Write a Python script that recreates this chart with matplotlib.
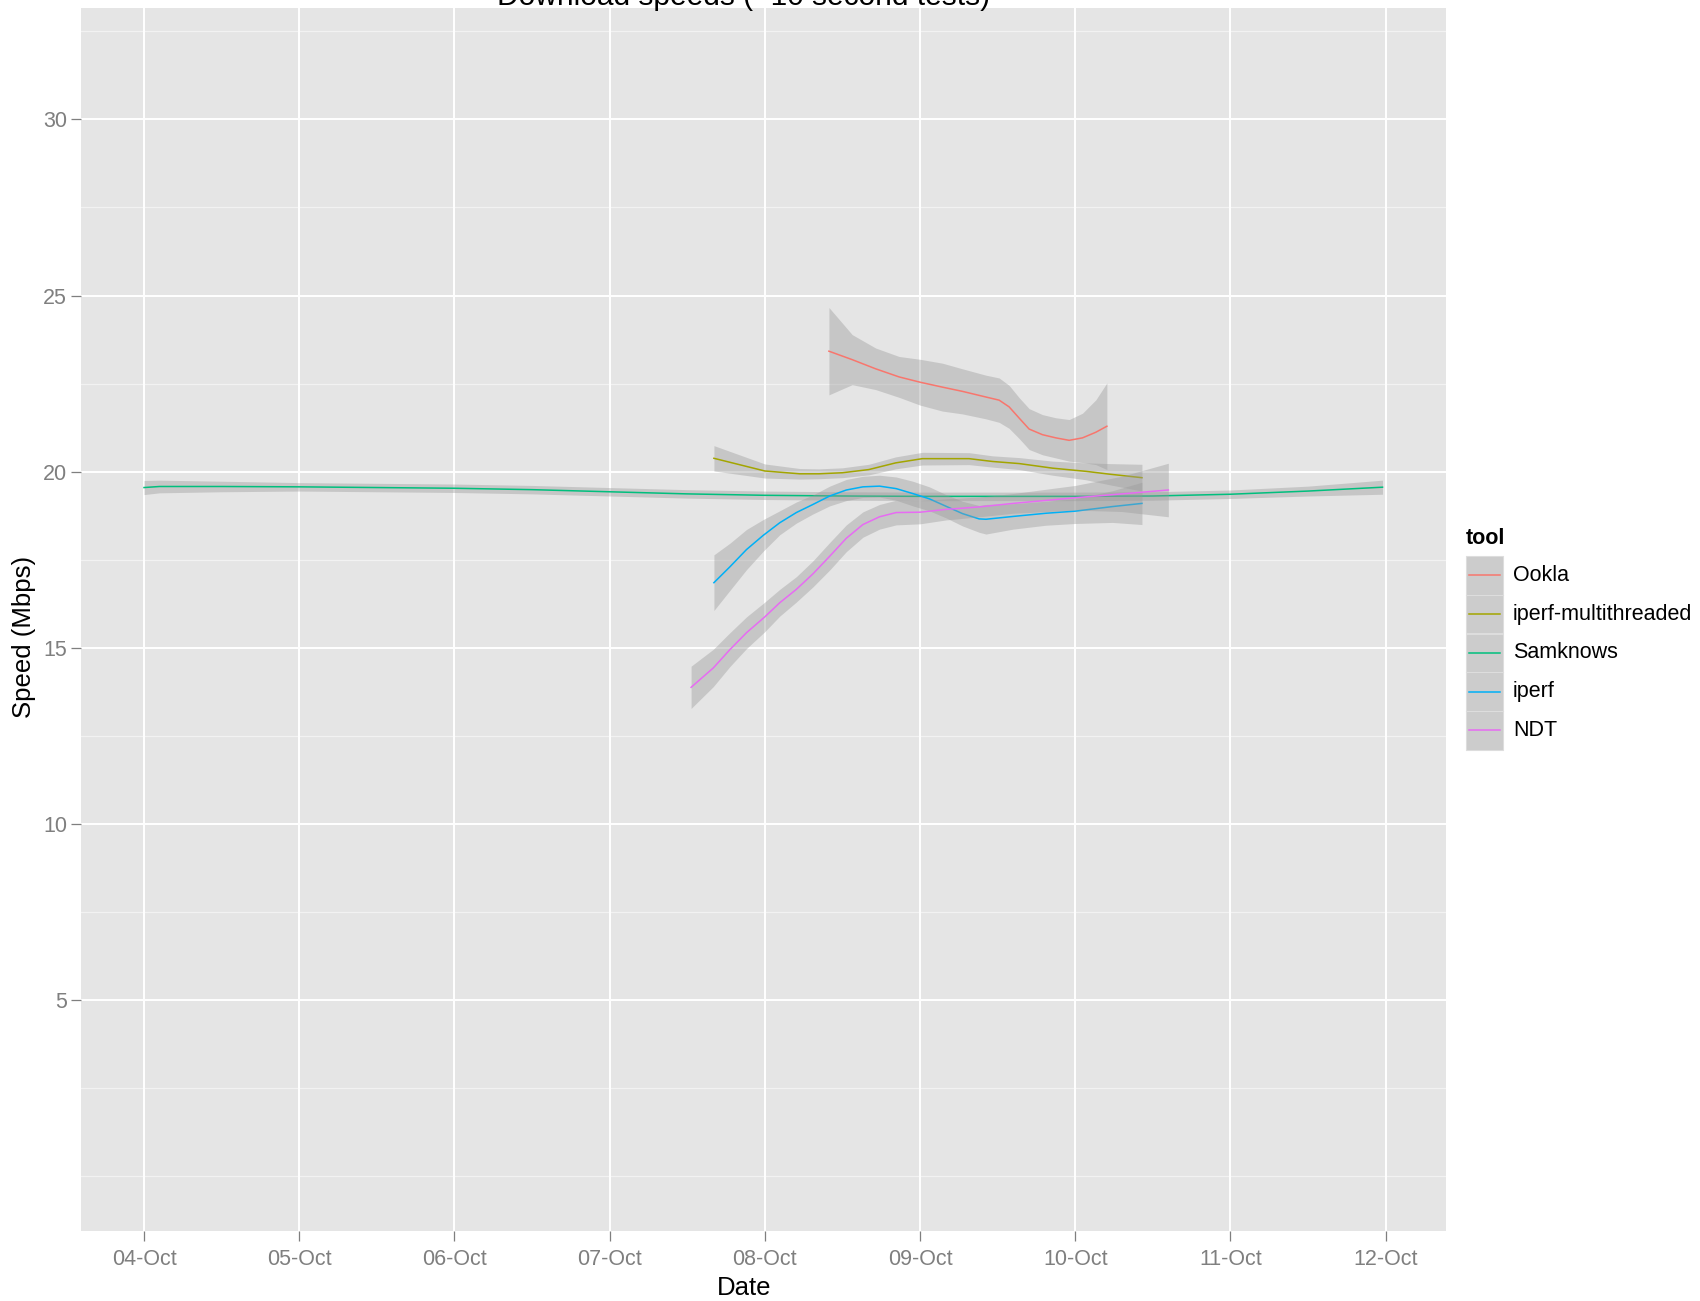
import matplotlib
matplotlib.use("Agg")
import matplotlib.pyplot as plt
from matplotlib.patches import Rectangle
from matplotlib.lines import Line2D

plt.rcParams['font.family'] = ['Liberation Sans', 'DejaVu Sans']

# ---------------- data (x = days since 04-Oct) ----------------
tick_labels = ["04-Oct", "05-Oct", "06-Oct", "07-Oct", "08-Oct", "09-Oct", "10-Oct", "11-Oct", "12-Oct"]
tick_days = [0, 1, 2, 3, 4, 5, 6, 7, 8]
y_ticks = [5, 10, 15, 20, 25, 30]
y_minor = [0, 2.5, 7.5, 12.5, 17.5, 22.5, 27.5, 32.5]

tools = ["Ookla", "iperf-multithreaded", "Samknows", "iperf", "NDT"]
colors = ["#F8766D", "#A3A500", "#00BF7D", "#00B0F6", "#E76BF3"]

ookla_x = [4.413, 4.563, 4.714, 4.865, 5.0, 5.144, 5.273, 5.424, 5.51, 5.574, 5.639, 5.703,
           5.789, 5.875, 5.961, 6.047, 6.133, 6.204]
ookla_y = [23.42, 23.18, 22.92, 22.69, 22.54, 22.40, 22.28, 22.12, 22.03, 21.84, 21.52, 21.21,
           21.05, 20.96, 20.89, 20.96, 21.12, 21.29]
ookla_se = [1.24, 0.71, 0.59, 0.58, 0.65, 0.68, 0.64, 0.62, 0.63, 0.61, 0.58, 0.58,
            0.57, 0.57, 0.59, 0.70, 0.92, 1.23]

mt_x = [3.672, 4.0, 4.225, 4.348, 4.5, 4.67, 4.843, 5.015, 5.316, 5.467, 5.64, 5.854, 6.069, 6.22, 6.43]
mt_y = [20.38, 20.02, 19.94, 19.94, 19.97, 20.06, 20.25, 20.37, 20.37, 20.29, 20.23, 20.10, 20.01, 19.93, 19.83]
mt_se = [0.36, 0.2, 0.15, 0.14, 0.14, 0.15, 0.17, 0.18, 0.17, 0.16, 0.17, 0.2, 0.24, 0.3, 0.38]

sam_x = [0.0, 0.1, 0.5, 1.0, 1.5, 2.0, 2.5, 3.0, 3.5, 4.0, 4.5, 5.0, 5.5, 6.0, 6.5, 7.0, 7.5, 7.98]
sam_y = [19.55, 19.58, 19.58, 19.57, 19.55, 19.53, 19.49, 19.43, 19.37, 19.33, 19.31, 19.30, 19.30, 19.30, 19.31, 19.36, 19.45, 19.56]
sam_se = [0.2, 0.18, 0.15, 0.12, 0.12, 0.12, 0.12, 0.12, 0.12, 0.12, 0.12, 0.12, 0.12, 0.12, 0.12, 0.12, 0.14, 0.2]

iperf_x = [3.672, 3.775, 3.882, 3.989, 4.096, 4.203, 4.31, 4.418, 4.525, 4.632, 4.739, 4.846,
           4.953, 5.06, 5.167, 5.274, 5.381, 5.425, 5.6, 5.81, 6.0, 6.24, 6.43]
iperf_y = [16.85, 17.30, 17.79, 18.19, 18.55, 18.84, 19.07, 19.31, 19.48, 19.57, 19.59, 19.52,
           19.38, 19.23, 19.02, 18.81, 18.66, 18.65, 18.73, 18.82, 18.88, 19.01, 19.10]
iperf_se = [0.79, 0.67, 0.57, 0.45, 0.34, 0.3, 0.27, 0.28, 0.3, 0.3, 0.31, 0.33,
            0.35, 0.34, 0.33, 0.35, 0.38, 0.42, 0.36, 0.34, 0.35, 0.45, 0.6]

ndt_x = [3.525, 3.668, 3.775, 3.882, 4.0, 4.096, 4.203, 4.31, 4.418, 4.525, 4.632, 4.739,
         4.846, 5.0, 5.167, 5.381, 5.6, 6.0, 6.3, 6.6]
ndt_y = [13.88, 14.43, 14.95, 15.43, 15.88, 16.28, 16.66, 17.10, 17.60, 18.11, 18.50, 18.72,
         18.84, 18.85, 18.93, 19.00, 19.10, 19.26, 19.37, 19.48]
ndt_se = [0.6, 0.53, 0.48, 0.45, 0.42, 0.38, 0.36, 0.37, 0.39, 0.38, 0.36, 0.35,
          0.35, 0.33, 0.3, 0.28, 0.28, 0.35, 0.5, 0.76]

series = [(ookla_x, ookla_y, ookla_se), (mt_x, mt_y, mt_se), (sam_x, sam_y, sam_se),
          (iperf_x, iperf_y, iperf_se), (ndt_x, ndt_y, ndt_se)]

# ---------------- figure ----------------
W, H = 1700, 1301
fig = plt.figure(figsize=(W / 100, H / 100), dpi=100)
fig.patch.set_facecolor("white")

def fx(px):
    return px / W

def fy(py):
    return 1 - py / H

L, R, T, B = 81, 1446, 8, 1231
ax = fig.add_axes([fx(L), fy(B), (R - L) / W, (B - T) / H])
ax.set_facecolor("#E5E5E5")
ax.set_xlim(-0.406, 8.389)
ax.set_ylim(-1.55, 33.16)
for s in ax.spines.values():
    s.set_visible(False)

for v in y_minor:
    ax.axhline(v, color="#F2F2F2", lw=0.9, zorder=0.5)
for v in y_ticks:
    ax.axhline(v, color="white", lw=1.4, zorder=0.6)
for d in tick_days:
    ax.axvline(d, color="white", lw=1.4, zorder=0.6)

z = 1
for (xs, ys, se), c in zip(series, colors):
    lo = [a - b for a, b in zip(ys, se)]
    hi = [a + b for a, b in zip(ys, se)]
    ax.fill_between(xs, lo, hi, color="#999999", alpha=0.4, lw=0, zorder=z)
    ax.plot(xs, ys, color=c, lw=1.1, zorder=z + 0.5)
    z += 1

ax.set_xticks(tick_days)
ax.set_xticklabels(tick_labels)
ax.set_yticks(y_ticks)
ax.set_yticklabels([str(v) for v in y_ticks])
ax.tick_params(axis="both", colors="#7F7F7F", labelcolor="#7F7F7F", labelsize=15.5,
               length=7, width=0.9)
ax.tick_params(axis="y", pad=3)
ax.tick_params(axis="x", pad=6)

# titles
fig.text(fx(744), fy(5), "Download speeds (~10 second tests)", ha="center", va="baseline",
         fontsize=21.5, color="black")
fig.text(fx(744), fy(1288), "Date", ha="center", va="center", fontsize=18.5, color="black")
fig.text(fx(24), fy(637), "Speed (Mbps)", ha="center", va="center", rotation=90,
         fontsize=18.5, color="black")

# legend
fig.text(fx(1466), fy(539), "tool", ha="left", va="center", fontsize=15.5, fontweight="bold")
key_top = 556
key_h = 38.75
for i, (name, c) in enumerate(zip(tools, colors)):
    y0 = key_top + i * key_h
    fig.add_artist(Rectangle((fx(1466), fy(y0 + key_h)), 37 / W, key_h / H,
                             transform=fig.transFigure, facecolor="#CCCCCC",
                             edgecolor="#DDDDDD", lw=0.8))
    yc = y0 + key_h / 2
    fig.add_artist(Line2D([fx(1469), fx(1500)], [fy(yc), fy(yc)], transform=fig.transFigure,
                          color=c, lw=1.1))
    fig.text(fx(1513), fy(yc), name, ha="left", va="center", fontsize=15.5, color="black")

fig.savefig("out.png", dpi=100)
